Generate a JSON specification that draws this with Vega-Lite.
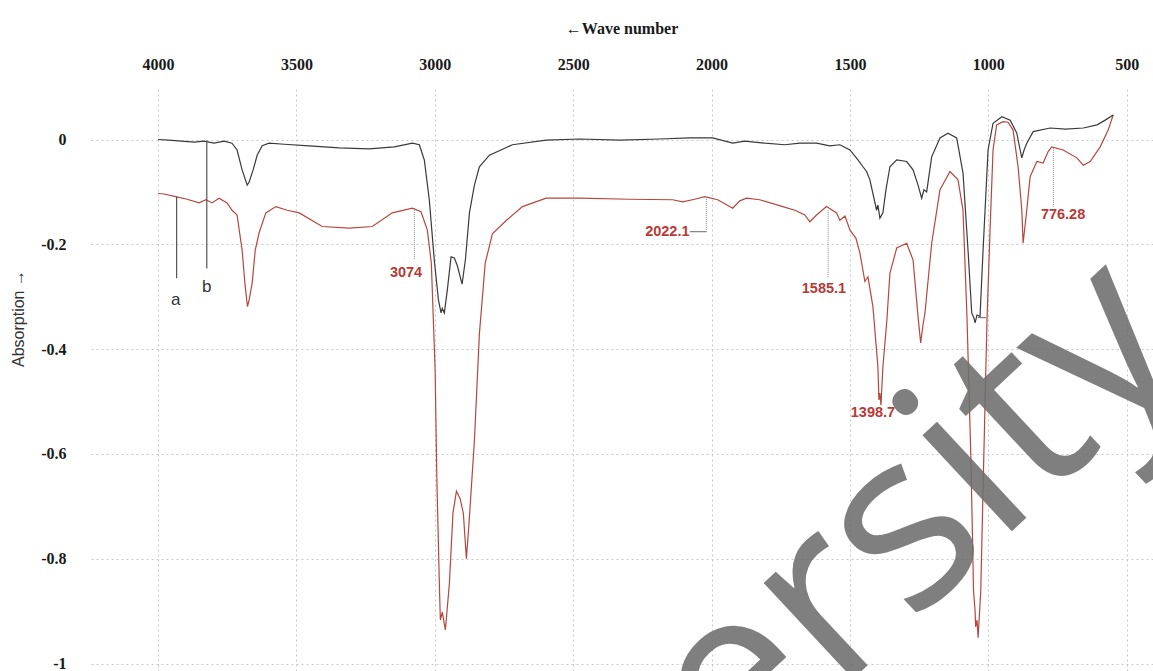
{
  "$schema": "https://vega.github.io/schema/vega-lite/v6.json",
  "width": 1063,
  "height": 583,
  "autosize": {"type": "none"},
  "padding": {"left": 90, "top": 88, "right": 0, "bottom": 0},
  "background": "white",
  "config": {"view": {"stroke": null}},
  "datasets": {
    "spectra": [
      {"sample":"a","wn":4000,"abs":-0.103},{"sample":"a","wn":3978.7,"abs":-0.104},{"sample":"a","wn":3936.3,"abs":-0.109},{"sample":"a","wn":3895.4,"abs":-0.114},{"sample":"a","wn":3852,"abs":-0.121},{"sample":"a","wn":3826.7,"abs":-0.115},{"sample":"a","wn":3805,"abs":-0.121},{"sample":"a","wn":3779.7,"abs":-0.112},{"sample":"a","wn":3750.7,"abs":-0.121},{"sample":"a","wn":3732.6,"abs":-0.135},{"sample":"a","wn":3714.5,"abs":-0.144},{"sample":"a","wn":3696.4,"abs":-0.211},{"sample":"a","wn":3685.6,"abs":-0.278},{"sample":"a","wn":3677,"abs":-0.319},{"sample":"a","wn":3671,"abs":-0.306},{"sample":"a","wn":3660,"abs":-0.274},{"sample":"a","wn":3649,"abs":-0.211},{"sample":"a","wn":3634.9,"abs":-0.178},{"sample":"a","wn":3610.7,"abs":-0.14},{"sample":"a","wn":3574.5,"abs":-0.128},{"sample":"a","wn":3533.6,"abs":-0.135},{"sample":"a","wn":3490,"abs":-0.14},{"sample":"a","wn":3407,"abs":-0.166},{"sample":"a","wn":3309,"abs":-0.169},{"sample":"a","wn":3226,"abs":-0.166},{"sample":"a","wn":3153.7,"abs":-0.14},{"sample":"a","wn":3081,"abs":-0.131},{"sample":"a","wn":3050,"abs":-0.138},{"sample":"a","wn":3027,"abs":-0.173},{"sample":"a","wn":3012.6,"abs":-0.236},{"sample":"a","wn":2999,"abs":-0.44},{"sample":"a","wn":2992.8,"abs":-0.644},{"sample":"a","wn":2983.7,"abs":-0.848},{"sample":"a","wn":2980,"abs":-0.917},{"sample":"a","wn":2973,"abs":-0.902},{"sample":"a","wn":2962,"abs":-0.936},{"sample":"a","wn":2947.5,"abs":-0.848},{"sample":"a","wn":2934.5,"abs":-0.713},{"sample":"a","wn":2922,"abs":-0.671},{"sample":"a","wn":2908.8,"abs":-0.685},{"sample":"a","wn":2897,"abs":-0.713},{"sample":"a","wn":2886,"abs":-0.8},{"sample":"a","wn":2876.6,"abs":-0.733},{"sample":"a","wn":2857,"abs":-0.575},{"sample":"a","wn":2839,"abs":-0.371},{"sample":"a","wn":2818,"abs":-0.236},{"sample":"a","wn":2792,"abs":-0.18},{"sample":"a","wn":2741,"abs":-0.154},{"sample":"a","wn":2683.4,"abs":-0.128},{"sample":"a","wn":2597.6,"abs":-0.112},{"sample":"a","wn":2477,"abs":-0.112},{"sample":"a","wn":2296,"abs":-0.114},{"sample":"a","wn":2140.7,"abs":-0.115},{"sample":"a","wn":2104.5,"abs":-0.119},{"sample":"a","wn":2061,"abs":-0.114},{"sample":"a","wn":2025,"abs":-0.109},{"sample":"a","wn":1977.9,"abs":-0.115},{"sample":"a","wn":1923.6,"abs":-0.131},{"sample":"a","wn":1898,"abs":-0.117},{"sample":"a","wn":1874,"abs":-0.112},{"sample":"a","wn":1826,"abs":-0.115},{"sample":"a","wn":1742.7,"abs":-0.128},{"sample":"a","wn":1699,"abs":-0.135},{"sample":"a","wn":1663,"abs":-0.144},{"sample":"a","wn":1645,"abs":-0.157},{"sample":"a","wn":1620.8,"abs":-0.144},{"sample":"a","wn":1584.6,"abs":-0.128},{"sample":"a","wn":1548.5,"abs":-0.14},{"sample":"a","wn":1536.5,"abs":-0.154},{"sample":"a","wn":1518,"abs":-0.146},{"sample":"a","wn":1500,"abs":-0.173},{"sample":"a","wn":1478.6,"abs":-0.188},{"sample":"a","wn":1464,"abs":-0.217},{"sample":"a","wn":1446,"abs":-0.271},{"sample":"a","wn":1435,"abs":-0.262},{"sample":"a","wn":1417,"abs":-0.319},{"sample":"a","wn":1399,"abs":-0.434},{"sample":"a","wn":1395.4,"abs":-0.497},{"sample":"a","wn":1391.8,"abs":-0.484},{"sample":"a","wn":1388,"abs":-0.507},{"sample":"a","wn":1381,"abs":-0.434},{"sample":"a","wn":1366.5,"abs":-0.344},{"sample":"a","wn":1355.6,"abs":-0.255},{"sample":"a","wn":1331,"abs":-0.207},{"sample":"a","wn":1295,"abs":-0.198},{"sample":"a","wn":1272,"abs":-0.23},{"sample":"a","wn":1254,"abs":-0.338},{"sample":"a","wn":1244.5,"abs":-0.388},{"sample":"a","wn":1236,"abs":-0.354},{"sample":"a","wn":1229,"abs":-0.331},{"sample":"a","wn":1204.7,"abs":-0.198},{"sample":"a","wn":1174.7,"abs":-0.096},{"sample":"a","wn":1138.5,"abs":-0.061},{"sample":"a","wn":1109.6,"abs":-0.077},{"sample":"a","wn":1091.5,"abs":-0.135},{"sample":"a","wn":1077,"abs":-0.341},{"sample":"a","wn":1062.5,"abs":-0.619},{"sample":"a","wn":1053.5,"abs":-0.862},{"sample":"a","wn":1048,"abs":-0.898},{"sample":"a","wn":1045.8,"abs":-0.93},{"sample":"a","wn":1040.8,"abs":-0.917},{"sample":"a","wn":1037,"abs":-0.951},{"sample":"a","wn":1027.4,"abs":-0.862},{"sample":"a","wn":1017,"abs":-0.619},{"sample":"a","wn":1004.7,"abs":-0.341},{"sample":"a","wn":993.8,"abs":-0.173},{"sample":"a","wn":983,"abs":-0.02},{"sample":"a","wn":970,"abs":0.028},{"sample":"a","wn":946.8,"abs":0.034},{"sample":"a","wn":928.7,"abs":0.033},{"sample":"a","wn":910.6,"abs":0.018},{"sample":"a","wn":892.5,"abs":-0.052},{"sample":"a","wn":879,"abs":-0.135},{"sample":"a","wn":874.4,"abs":-0.198},{"sample":"a","wn":863.6,"abs":-0.147},{"sample":"a","wn":849,"abs":-0.071},{"sample":"a","wn":824.6,"abs":-0.042},{"sample":"a","wn":802,"abs":-0.045},{"sample":"a","wn":783.9,"abs":-0.023},{"sample":"a","wn":770.6,"abs":-0.014},{"sample":"a","wn":729.7,"abs":-0.02},{"sample":"a","wn":680,"abs":-0.035},{"sample":"a","wn":657,"abs":-0.049},{"sample":"a","wn":632,"abs":-0.042},{"sample":"a","wn":595.8,"abs":-0.014},{"sample":"a","wn":567,"abs":0.018},{"sample":"a","wn":548.8,"abs":0.047},
      {"sample":"b","wn":4000,"abs":0.0},{"sample":"b","wn":3961,"abs":-0.001},{"sample":"b","wn":3917,"abs":-0.003},{"sample":"b","wn":3870,"abs":-0.005},{"sample":"b","wn":3834,"abs":-0.003},{"sample":"b","wn":3798,"abs":-0.007},{"sample":"b","wn":3761,"abs":-0.003},{"sample":"b","wn":3733,"abs":-0.007},{"sample":"b","wn":3714.5,"abs":-0.02},{"sample":"b","wn":3696.4,"abs":-0.058},{"sample":"b","wn":3678,"abs":-0.087},{"sample":"b","wn":3671,"abs":-0.081},{"sample":"b","wn":3656.6,"abs":-0.058},{"sample":"b","wn":3642,"abs":-0.03},{"sample":"b","wn":3624,"abs":-0.012},{"sample":"b","wn":3598.8,"abs":-0.007},{"sample":"b","wn":3544.5,"abs":-0.009},{"sample":"b","wn":3454,"abs":-0.012},{"sample":"b","wn":3345.5,"abs":-0.016},{"sample":"b","wn":3237,"abs":-0.018},{"sample":"b","wn":3146.5,"abs":-0.014},{"sample":"b","wn":3081,"abs":-0.007},{"sample":"b","wn":3056,"abs":-0.01},{"sample":"b","wn":3038,"abs":-0.039},{"sample":"b","wn":3020,"abs":-0.115},{"sample":"b","wn":3002,"abs":-0.23},{"sample":"b","wn":2987,"abs":-0.306},{"sample":"b","wn":2977.5,"abs":-0.331},{"sample":"b","wn":2973,"abs":-0.322},{"sample":"b","wn":2965.6,"abs":-0.331},{"sample":"b","wn":2954.8,"abs":-0.287},{"sample":"b","wn":2941.4,"abs":-0.224},{"sample":"b","wn":2929.4,"abs":-0.226},{"sample":"b","wn":2918.6,"abs":-0.241},{"sample":"b","wn":2901.6,"abs":-0.276},{"sample":"b","wn":2889.6,"abs":-0.23},{"sample":"b","wn":2875,"abs":-0.14},{"sample":"b","wn":2857,"abs":-0.087},{"sample":"b","wn":2839,"abs":-0.052},{"sample":"b","wn":2802.8,"abs":-0.03},{"sample":"b","wn":2719.6,"abs":-0.01},{"sample":"b","wn":2597.6,"abs":-0.001},{"sample":"b","wn":2477,"abs":0.001},{"sample":"b","wn":2332,"abs":-0.001},{"sample":"b","wn":2187.7,"abs":0.001},{"sample":"b","wn":2079,"abs":0.003},{"sample":"b","wn":1996,"abs":0.003},{"sample":"b","wn":1923.6,"abs":-0.007},{"sample":"b","wn":1880,"abs":-0.003},{"sample":"b","wn":1807.8,"abs":-0.007},{"sample":"b","wn":1735.5,"abs":-0.01},{"sample":"b","wn":1681,"abs":-0.007},{"sample":"b","wn":1620.8,"abs":-0.007},{"sample":"b","wn":1572.7,"abs":-0.012},{"sample":"b","wn":1536.5,"abs":-0.01},{"sample":"b","wn":1500,"abs":-0.02},{"sample":"b","wn":1471,"abs":-0.039},{"sample":"b","wn":1453,"abs":-0.052},{"sample":"b","wn":1440,"abs":-0.061},{"sample":"b","wn":1428,"abs":-0.077},{"sample":"b","wn":1403.7,"abs":-0.135},{"sample":"b","wn":1399,"abs":-0.125},{"sample":"b","wn":1391.8,"abs":-0.15},{"sample":"b","wn":1381,"abs":-0.14},{"sample":"b","wn":1370,"abs":-0.096},{"sample":"b","wn":1355.6,"abs":-0.052},{"sample":"b","wn":1331,"abs":-0.039},{"sample":"b","wn":1295,"abs":-0.042},{"sample":"b","wn":1272,"abs":-0.058},{"sample":"b","wn":1254,"abs":-0.087},{"sample":"b","wn":1241,"abs":-0.112},{"sample":"b","wn":1232.6,"abs":-0.096},{"sample":"b","wn":1222.8,"abs":-0.1},{"sample":"b","wn":1204.7,"abs":-0.033},{"sample":"b","wn":1174.7,"abs":0.003},{"sample":"b","wn":1145.8,"abs":0.012},{"sample":"b","wn":1114.3,"abs":0.003},{"sample":"b","wn":1091.5,"abs":-0.064},{"sample":"b","wn":1073.4,"abs":-0.211},{"sample":"b","wn":1060,"abs":-0.331},{"sample":"b","wn":1051.7,"abs":-0.341},{"sample":"b","wn":1048,"abs":-0.35},{"sample":"b","wn":1040.8,"abs":-0.335},{"sample":"b","wn":1030,"abs":-0.338},{"sample":"b","wn":1019,"abs":-0.211},{"sample":"b","wn":1001,"abs":-0.02},{"sample":"b","wn":983,"abs":0.031},{"sample":"b","wn":951,"abs":0.0435},{"sample":"b","wn":921,"abs":0.037},{"sample":"b","wn":897,"abs":0.012},{"sample":"b","wn":888.9,"abs":-0.01},{"sample":"b","wn":879,"abs":-0.035},{"sample":"b","wn":870.8,"abs":-0.02},{"sample":"b","wn":861,"abs":-0.007},{"sample":"b","wn":838,"abs":0.015},{"sample":"b","wn":776.7,"abs":0.022},{"sample":"b","wn":722,"abs":0.02},{"sample":"b","wn":657,"abs":0.022},{"sample":"b","wn":606.7,"abs":0.028},{"sample":"b","wn":577.7,"abs":0.037},{"sample":"b","wn":548.8,"abs":0.047}
    ],
    "peakLeadersV": [
      {"wn":3074,"abs":-0.131,"abs2":-0.23},
      {"wn":2019,"abs":-0.11,"abs2":-0.176},
      {"wn":1579,"abs":-0.135,"abs2":-0.265},
      {"wn":765,"abs":-0.016,"abs2":-0.128}
    ],
    "peakLeadersH": [
      {"wn":2079,"wn2":2019,"abs":-0.176},
      {"wn":1037,"wn2":1008,"abs":-0.34}
    ],
    "sampleLeaders": [
      {"wn":3933,"abs":-0.109,"abs2":-0.265},
      {"wn":3824,"abs":-0.002,"abs2":-0.246}
    ],
    "peakLabels": [
      {"label":"3074","wn":3104,"abs":-0.254},
      {"label":"2022.1","wn":2160,"abs":-0.176},
      {"label":"1585.1","wn":1594,"abs":-0.285},
      {"label":"1398.7","wn":1417,"abs":-0.522},
      {"label":"776.28","wn":730,"abs":-0.145}
    ],
    "sampleLabels": [
      {"label":"a","wn":3936,"abs":-0.306},
      {"label":"b","wn":3824,"abs":-0.282}
    ],
    "watermark": [
      {"label":"University","wn":252,"abs":-0.4208}
    ]
  },
  "encoding": {
    "x": {
      "field": "wn", "type": "quantitative",
      "scale": {"domain": [405, 4246], "reverse": true, "nice": false, "zero": false},
      "axis": {
        "orient": "top", "values": [4000, 3500, 3000, 2500, 2000, 1500, 1000, 500],
        "title": "←Wave number", "domain": false, "ticks": false,
        "labelExpr": "'' + datum.value",
        "labelPadding": 16, "labelFont": "Liberation Serif", "labelFontWeight": "bold", "labelFontSize": 16, "labelColor": "#1a1a1a",
        "titleFont": "Liberation Serif", "titleFontWeight": "bold", "titleFontSize": 16, "titleColor": "#1a1a1a", "titlePadding": 20,
        "grid": true, "gridColor": "#c8c8c8", "gridDash": [2, 3], "gridWidth": 1
      }
    },
    "y": {
      "field": "abs", "type": "quantitative",
      "scale": {"domain": [-1.0143, 0.0983], "nice": false, "zero": false},
      "axis": {
        "values": [0, -0.2, -0.4, -0.6, -0.8, -1],
        "title": "Absorption →", "domain": false, "ticks": false,
        "labelExpr": "'' + datum.value",
        "labelPadding": 24, "labelFont": "Liberation Serif", "labelFontWeight": "bold", "labelFontSize": 16, "labelColor": "#1a1a1a",
        "titleFont": "Liberation Sans", "titleFontWeight": "normal", "titleFontSize": 16, "titleColor": "#333333",
        "titleAngle": -90, "titleX": -72, "titleY": 230, "titleAlign": "center", "titleBaseline": "middle",
        "grid": true, "gridColor": "#c8c8c8", "gridDash": [2, 3], "gridWidth": 1
      }
    }
  },
  "layer": [
    {
      "data": {"name": "spectra"},
      "mark": {"type": "line", "strokeWidth": 1.2, "interpolate": "linear"},
      "encoding": {
        "color": {"field": "sample", "type": "nominal", "scale": {"domain": ["a", "b"], "range": ["#b5473f", "#3a3a3a"]}, "legend": null}
      }
    },
    {
      "data": {"name": "peakLeadersV"},
      "mark": {"type": "rule", "color": "#8a8a8a", "strokeWidth": 1, "strokeDash": [1, 1]},
      "encoding": {"y2": {"field": "abs2"}}
    },
    {
      "data": {"name": "peakLeadersH"},
      "mark": {"type": "rule", "color": "#666666", "strokeWidth": 1},
      "encoding": {"x2": {"field": "wn2"}}
    },
    {
      "data": {"name": "sampleLeaders"},
      "mark": {"type": "rule", "color": "#555555", "strokeWidth": 1.2},
      "encoding": {"y2": {"field": "abs2"}}
    },
    {
      "data": {"name": "peakLabels"},
      "mark": {"type": "text", "font": "Liberation Sans", "fontWeight": "bold", "fontSize": 14.5, "color": "#b83a36", "align": "center", "baseline": "middle"},
      "encoding": {"text": {"field": "label"}}
    },
    {
      "data": {"name": "sampleLabels"},
      "mark": {"type": "text", "font": "Liberation Sans", "fontSize": 17, "color": "#333333", "align": "center", "baseline": "middle"},
      "encoding": {"text": {"field": "label"}}
    },
    {
      "data": {"name": "watermark"},
      "mark": {"type": "text", "font": "Open Sans", "fontSize": 245, "color": "#6e6e6e", "opacity": 0.88, "angle": -43, "align": "right", "baseline": "alphabetic"},
      "encoding": {"text": {"field": "label"}}
    }
  ]
}
